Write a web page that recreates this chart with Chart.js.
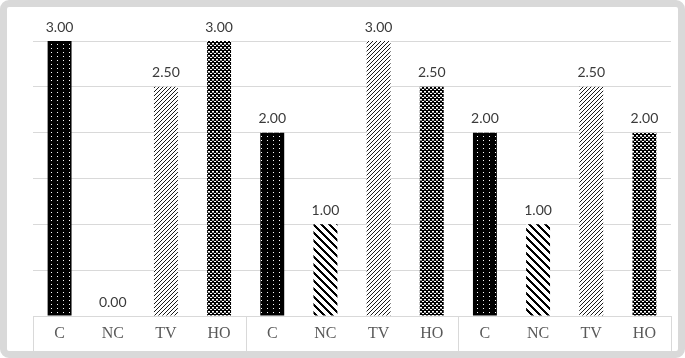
<!DOCTYPE html>
<html>
<head>
<meta charset="utf-8">
<script src="https://cdn.jsdelivr.net/npm/chart.js@4/dist/chart.umd.min.js"></script>
<style>
    html, body { margin: 0; padding: 0; background: #ffffff; }
    #frame {
        width: 685px; height: 358px; box-sizing: border-box;
        border: 7px solid #d9d9d9; border-radius: 9px; background: #ffffff;
    }
    #chart { display: block; }
</style>
</head>
<body>
<div id="frame"><canvas id="chart" width="671" height="344"></canvas></div>
<script>
// --- datos ---
const categories = ['C', 'NC', 'TV', 'HO'];
const labels = ['C', 'NC', 'TV', 'HO', 'C', 'NC', 'TV', 'HO', 'C', 'NC', 'TV', 'HO'];
const values = [3.00, 0.00, 2.50, 3.00, 2.00, 1.00, 3.00, 2.50, 2.00, 1.00, 2.50, 2.00];
const yTicks = [0, 0.5, 1, 1.5, 2, 2.5, 3];

// tramas de relleno (una por categoría)
const makePattern = (w, h, draw) => {
    const c = document.createElement('canvas');
    c.width = w; c.height = h;
    const g = c.getContext('2d');
    draw(g, w, h);
    return document.getElementById('chart').getContext('2d').createPattern(c, 'repeat');
};

const patterns = {
    // negro con puntos blancos
    C: makePattern(6, 4, (g, w, h) => {
        g.fillStyle = '#000'; g.fillRect(0, 0, w, h);
        g.fillStyle = '#fff'; g.fillRect(2, 1, 1, 1);
    }),
    // rayas gruesas en diagonal invertida
    NC: makePattern(8, 8, (g, w, h) => {
        g.fillStyle = '#fff'; g.fillRect(0, 0, w, h);
        g.fillStyle = '#000';
        for (let y = 0; y < h; y++) {
            for (let k = 0; k < 3; k++) g.fillRect((y + k) % w, y, 1, 1);
        }
    }),
    // rayado fino en diagonal
    TV: makePattern(4, 4, (g, w, h) => {
        g.fillStyle = '#fff'; g.fillRect(0, 0, w, h);
        g.fillStyle = '#1a1a1a';
        for (let y = 0; y < h; y++) g.fillRect(w - 1 - y, y, 1, 1);
    }),
    // trama densa tipo cesta
    HO: makePattern(4, 4, (g, w, h) => {
        g.fillStyle = '#000'; g.fillRect(0, 0, w, h);
        g.fillStyle = '#fff';
        g.fillRect(1, 0, 2, 1);
        g.fillRect(3, 2, 1, 1);
        g.fillRect(0, 2, 1, 1);
        g.fillStyle = '#8c8c8c';
        g.fillRect(1, 1, 2, 1);
    })
};

const barFills = labels.map(l => patterns[l]);

// etiquetas de valor encima de cada barra
const valueLabels = {
    id: 'valueLabels',
    afterDatasetsDraw(chart) {
        const ctx = chart.ctx;
        const meta = chart.getDatasetMeta(0);
        ctx.save();
        ctx.font = '14px Lato, "Open Sans", sans-serif';
        ctx.fillStyle = '#3a3a3a';
        ctx.textAlign = 'center';
        ctx.textBaseline = 'middle';
        meta.data.forEach((bar, i) => {
            ctx.fillText(values[i].toFixed(2), bar.x, bar.y - 14);
        });
        ctx.restore();
    }
};

// caja del eje de categorías con separadores por grupo
const categoryBox = {
    id: 'categoryBox',
    afterDraw(chart) {
        const ctx = chart.ctx;
        const x = chart.scales.x;
        const area = chart.chartArea;
        const step = x.getPixelForValue(1) - x.getPixelForValue(0);
        const top = area.bottom;
        const bottom = chart.height;
        ctx.save();
        ctx.strokeStyle = '#d9d9d9';
        ctx.lineWidth = 1;
        ctx.beginPath();
        ctx.moveTo(area.left, top + 0.5);
        ctx.lineTo(area.right, top + 0.5);
        for (let i = 0; i <= labels.length; i += categories.length) {
            const px = Math.round(x.getPixelForValue(i) - step / 2) + 0.5;
            ctx.moveTo(px, top);
            ctx.lineTo(px, bottom);
        }
        ctx.stroke();
        ctx.font = '16px "Liberation Serif", serif';
        ctx.fillStyle = '#595959';
        ctx.textAlign = 'center';
        ctx.textBaseline = 'middle';
        labels.forEach((l, i) => {
            ctx.fillText(l, x.getPixelForValue(i), top + 18);
        });
        ctx.restore();
    }
};

new Chart(document.getElementById('chart'), {
    type: 'bar',
    data: {
        labels: labels,
        datasets: [{
            data: values,
            backgroundColor: barFills,
            borderWidth: 0,
            categoryPercentage: 1,
            barPercentage: 0.45
        }]
    },
    options: {
        responsive: false,
        animation: false,
        layout: { padding: { left: 26, right: 7, top: 34, bottom: 35 } },
        plugins: {
            legend: { display: false },
            tooltip: { enabled: false }
        },
        scales: {
            x: { display: false },
            y: {
                min: 0, max: 3,
                afterBuildTicks: axis => { axis.ticks = yTicks.map(v => ({ value: v })); },
                ticks: { display: false },
                grid: { color: '#d9d9d9', drawTicks: false },
                border: { display: false },
                afterFit: axis => { axis.width = 0; }
            }
        }
    },
    plugins: [valueLabels, categoryBox]
});
</script>
</body>
</html>
